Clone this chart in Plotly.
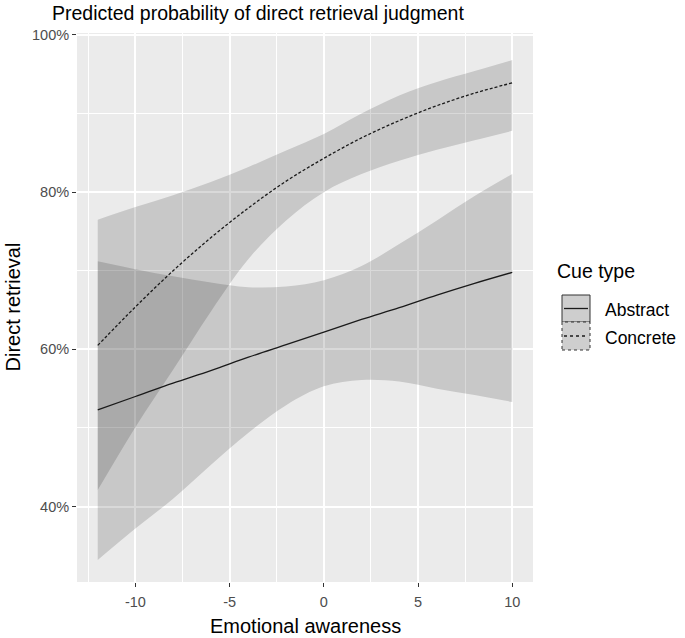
import plotly.graph_objects as go

# ---- data (percent) ----
x_vals = [-12, -10, -8, -6, -4, -2, 0, 2, 4, 6, 8, 10]

abstract_fit = [52.3, 54.0, 55.7, 57.3, 59.0, 60.6, 62.2, 63.8, 65.3, 66.9, 68.4, 69.8]
abstract_hi = [71.2, 70.2, 69.3, 68.5, 67.9, 68.0, 68.8, 70.6, 73.4, 76.4, 79.5, 82.3]
abstract_lo = [33.2, 37.2, 41.0, 45.3, 49.4, 52.9, 55.3, 56.1, 55.9, 55.0, 54.2, 53.3]

concrete_fit = [60.5, 65.4, 70.0, 74.2, 78.0, 81.4, 84.3, 86.9, 89.1, 91.0, 92.6, 93.9]
concrete_hi = [76.5, 78.1, 79.6, 81.3, 83.2, 85.3, 87.4, 90.0, 92.3, 94.0, 95.4, 96.8]
concrete_lo = [42.1, 50.1, 57.4, 64.8, 71.5, 76.4, 80.0, 82.3, 84.0, 85.4, 86.6, 87.8]

y_ticks = [40, 60, 80, 100]
y_tick_labels = ["40%", "60%", "80%", "100%"]
x_ticks = [-10, -5, 0, 5, 10]
x_tick_labels = ["-10", "-5", "0", "5", "10"]

title_text = "Predicted probability of direct retrieval judgment"
x_title = "Emotional awareness"
y_title = "Direct retrieval"
legend_title = "Cue type"
groups = ["Abstract", "Concrete"]

# ---- figure ----
W, H = 685, 638
L, R, T, B = 77, 152, 33, 56
PW, PH = W - L - R, H - T - B

def px(xp):
    return (xp - L) / PW

def py(yp):
    return (H - B - yp) / PH

ribbon = "rgba(0,0,0,0.15)"
fig = go.Figure()

for name, lo, hi in [
    (groups[0], abstract_lo, abstract_hi),
    (groups[1], concrete_lo, concrete_hi),
]:
    fig.add_trace(go.Scatter(x=x_vals, y=lo, mode="lines", line=dict(width=0, shape="spline"),
                             hoverinfo="skip", showlegend=False))
    fig.add_trace(go.Scatter(x=x_vals, y=hi, mode="lines", line=dict(width=0, shape="spline"),
                             fill="tonexty", fillcolor=ribbon,
                             hoverinfo="skip", showlegend=False))

for name, fit, dash in [
    (groups[0], abstract_fit, "solid"),
    (groups[1], concrete_fit, "3px,2px"),
]:
    fig.add_trace(go.Scatter(x=x_vals, y=fit, mode="lines", name=name,
                             line=dict(color="#1a1a1a", width=1.3, dash=dash, shape="spline"),
                             showlegend=False))

font_family = "Liberation Sans, Arial, sans-serif"

fig.update_layout(
    width=W, height=H,
    margin=dict(l=L, r=R, t=T, b=B),
    paper_bgcolor="white",
    plot_bgcolor="#EBEBEB",
    font=dict(family=font_family, color="black"),
    title=dict(text=title_text, x=52 / W, y=1 - 13 / H, xref="container", yref="container",
               xanchor="left", yanchor="middle", font=dict(size=19.5, color="black")),
    showlegend=False,
)

fig.update_xaxes(
    range=[-13.1, 11.1], tickvals=x_ticks, ticktext=x_tick_labels,
    showgrid=True, gridcolor="white", gridwidth=1.6,
    minor=dict(tickvals=[-12.5, -7.5, -2.5, 2.5, 7.5], showgrid=True,
               gridcolor="white", gridwidth=0.9, ticks=""),
    zeroline=False, showline=False,
    ticks="outside", ticklen=4, tickwidth=1, tickcolor="#333333",
    ticklabelstandoff=3,
    tickfont=dict(size=14.5, color="#4D4D4D"),
)
fig.update_yaxes(
    range=[30.4, 100.25], tickvals=y_ticks, ticktext=y_tick_labels,
    showgrid=True, gridcolor="white", gridwidth=1.6,
    minor=dict(tickvals=[30, 50, 70, 90], showgrid=True,
               gridcolor="white", gridwidth=0.9, ticks=""),
    zeroline=False, showline=False,
    ticks="outside", ticklen=4, tickwidth=1, tickcolor="#333333",
    tickfont=dict(size=14.5, color="#4D4D4D"),
)

annotations = [
    dict(text=x_title, x=0.5, y=py(626), xref="paper", yref="paper",
         showarrow=False, xanchor="center", yanchor="middle",
         font=dict(size=20, color="black")),
    dict(text=y_title, x=px(12), y=0.5, xref="paper", yref="paper",
         showarrow=False, xanchor="center", yanchor="middle", textangle=-90,
         font=dict(size=20, color="black")),
    dict(text=legend_title, x=px(555), y=py(271), xref="paper", yref="paper",
         showarrow=False, xanchor="left", yanchor="middle",
         font=dict(size=19.5, color="black")),
    dict(text=groups[0], x=px(603), y=py(310), xref="paper", yref="paper",
         showarrow=False, xanchor="left", yanchor="middle",
         font=dict(size=17.5, color="black")),
    dict(text=groups[1], x=px(603), y=py(338), xref="paper", yref="paper",
         showarrow=False, xanchor="left", yanchor="middle",
         font=dict(size=17.5, color="black")),
]
fig.update_layout(annotations=annotations)

shapes = []
for (y0, y1, dash) in [(295, 322, "solid"), (322, 350, "dot")]:
    shapes.append(dict(type="rect", xref="paper", yref="paper",
                       x0=px(562), x1=px(590), y0=py(y1), y1=py(y0),
                       fillcolor="#CECECE", line=dict(color="#333333", width=1, dash=dash)))
    ym = (y0 + y1) / 2
    shapes.append(dict(type="line", xref="paper", yref="paper",
                       x0=px(564), x1=px(588), y0=py(ym), y1=py(ym),
                       line=dict(color="#1a1a1a", width=1.3, dash=dash)))
fig.update_layout(shapes=shapes)

fig.write_html("out.html", config={"displayModeBar": False},
               post_script="document.body.style.margin='0px';")
